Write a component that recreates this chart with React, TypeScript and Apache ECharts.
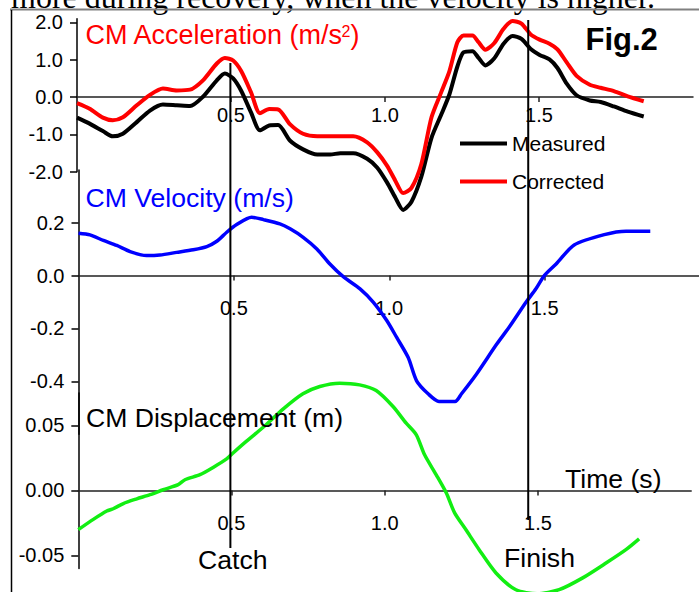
import React, { useEffect, useRef } from "react";
import * as echarts from "echarts";

// ---------- data ----------
const accTime = [0, 0.041, 0.084, 0.116, 0.149, 0.194, 0.237, 0.279, 0.324, 0.367, 0.409, 0.454, 0.48, 0.507, 0.533, 0.565, 0.594, 0.624, 0.653, 0.692, 0.734, 0.78, 0.822, 0.855, 0.897, 0.942, 0.975, 1.007, 1.033, 1.059, 1.086, 1.118, 1.151, 1.183, 1.209, 1.235, 1.255, 1.284, 1.303, 1.326, 1.355, 1.385, 1.414, 1.443, 1.473, 1.502, 1.534, 1.56, 1.59, 1.622, 1.665, 1.7, 1.743, 1.788, 1.84];
const accMeasured = [-0.55, -0.71, -0.91, -1.05, -0.98, -0.67, -0.36, -0.2, -0.22, -0.24, 0.01, 0.45, 0.63, 0.5, 0.17, -0.41, -0.89, -0.76, -0.75, -1.17, -1.4, -1.54, -1.54, -1.5, -1.5, -1.65, -1.89, -2.29, -2.68, -3.02, -2.8, -2.13, -1.09, -0.46, 0.07, 0.82, 1.2, 1.23, 1.06, 0.85, 1.04, 1.43, 1.64, 1.56, 1.29, 1.13, 1.01, 0.78, 0.36, 0.05, -0.09, -0.13, -0.25, -0.39, -0.52];
const accCorrected = [-0.16, -0.31, -0.55, -0.62, -0.54, -0.22, 0.06, 0.23, 0.18, 0.2, 0.45, 0.9, 1.05, 0.98, 0.7, 0.13, -0.43, -0.32, -0.33, -0.73, -0.98, -1.05, -1.05, -1.05, -1.05, -1.21, -1.48, -1.84, -2.23, -2.57, -2.43, -1.79, -0.54, 0.14, 0.69, 1.47, 1.65, 1.65, 1.48, 1.27, 1.45, 1.83, 2.04, 1.97, 1.68, 1.54, 1.43, 1.28, 0.93, 0.57, 0.33, 0.25, 0.16, 0.02, -0.11];

const velTime = [0, 0.037, 0.08, 0.123, 0.166, 0.219, 0.262, 0.316, 0.369, 0.413, 0.445, 0.477, 0.509, 0.557, 0.595, 0.648, 0.681, 0.723, 0.767, 0.809, 0.852, 0.906, 0.949, 0.992, 1.024, 1.061, 1.088, 1.125, 1.16, 1.212, 1.232, 1.281, 1.346, 1.389, 1.44, 1.472, 1.499, 1.537, 1.595, 1.692, 1.762, 1.84];
const velocity = [0.16, 0.154, 0.133, 0.114, 0.091, 0.076, 0.078, 0.088, 0.098, 0.11, 0.13, 0.164, 0.193, 0.221, 0.212, 0.196, 0.177, 0.145, 0.101, 0.044, -0.004, -0.05, -0.101, -0.17, -0.234, -0.31, -0.398, -0.447, -0.476, -0.476, -0.448, -0.372, -0.259, -0.19, -0.101, -0.05, 0.0, 0.044, 0.116, 0.155, 0.168, 0.168];

const dispTime = [0, 0.049, 0.093, 0.114, 0.147, 0.191, 0.234, 0.277, 0.326, 0.348, 0.397, 0.44, 0.484, 0.505, 0.548, 0.613, 0.668, 0.733, 0.788, 0.853, 0.918, 0.972, 1.027, 1.07, 1.103, 1.13, 1.168, 1.201, 1.228, 1.265, 1.308, 1.363, 1.428, 1.497, 1.569, 1.646, 1.722, 1.787, 1.83];
const displacement = [-0.0302, -0.0223, -0.0159, -0.0141, -0.0101, -0.0065, -0.0033, 0.0005, 0.0044, 0.0082, 0.0121, 0.0177, 0.0242, 0.0288, 0.0377, 0.0505, 0.0625, 0.0743, 0.0799, 0.0825, 0.0812, 0.0768, 0.0645, 0.0517, 0.0428, 0.0274, 0.012, -0.002, -0.0173, -0.0303, -0.0456, -0.0635, -0.0764, -0.0795, -0.0764, -0.0673, -0.0559, -0.0456, -0.0373];

const timeTicks = [0.5, 1.0, 1.5];
const accTicks = [-2, -1, 0, 1, 2];
const velTicks = [-0.4, -0.2, 0, 0.2];
const dispTicks = [-0.05, 0, 0.05];
const catchTime = 0.498;
const finishTime = 1.465;
const legendNames = ["Measured", "Corrected"];

const FONT = '"Liberation Sans", Arial, sans-serif';
const AXIS_COLOR = "#222";

// panel layout: grid box + value range of its y axis
const panels = [
  { left: 77, top: 18.7, width: 616, height: 153.1, min: -2, max: 2.1, labelMargin: 8 },
  { left: 78.5, top: 169.9, width: 621.5, height: 264.3, min: -0.6, max: 0.4, labelMargin: 22 },
  { left: 78.3, top: 392.9, width: 612.9, height: 175.5, min: -0.06, max: 0.075, labelMargin: 23 },
];

function xAxisFor(gridIndex: number) {
  const p = panels[gridIndex];
  // place the time axis on the y = 0 line of its panel
  const offset = -(p.height * (0 - p.min)) / (p.max - p.min);
  return {
    type: "value",
    gridIndex,
    position: "bottom",
    offset,
    min: 0,
    max: 2,
    axisLine: { show: true, onZero: false, lineStyle: { color: AXIS_COLOR, width: 1.5 } },
    axisTick: { show: true, inside: false, length: 5, customValues: timeTicks, lineStyle: { color: AXIS_COLOR, width: 1.5 } },
    axisLabel: {
      customValues: timeTicks,
      margin: p.labelMargin,
      fontSize: 20,
      color: "#000",
      fontFamily: FONT,
      formatter: (v: number) => v.toFixed(1),
    },
    splitLine: { show: false },
  };
}

function yAxisFor(gridIndex: number, ticks: number[], digits: number) {
  const p = panels[gridIndex];
  return {
    type: "value",
    gridIndex,
    min: p.min,
    max: p.max,
    axisLine: { show: true, onZero: false, lineStyle: { color: "#000", width: 1.5 } },
    axisTick: { show: true, inside: false, length: 7, customValues: ticks, lineStyle: { color: "#000", width: 1.5 } },
    axisLabel: {
      customValues: ticks,
      margin: 14,
      fontSize: 20,
      color: "#000",
      fontFamily: FONT,
      formatter: (v: number) => v.toFixed(digits),
    },
    splitLine: { show: false },
  };
}

function lineSeries(name: string, xi: number, times: number[], values: number[], color: string, width: number) {
  return {
    type: "line",
    name,
    xAxisIndex: xi,
    yAxisIndex: xi,
    data: times.map((t, i) => [t, values[i]]),
    showSymbol: false,
    symbol: "none",
    smooth: 0.25,
    clip: false,
    lineStyle: { color, width },
    itemStyle: { color },
    emphasis: { disabled: true },
  };
}

function txt(text: string, x: number, y: number, size: number, fill: string, extra: any = {}) {
  return {
    type: "text",
    x,
    y,
    z: 20,
    silent: true,
    style: {
      text,
      fill,
      fontSize: size,
      fontFamily: extra.fontFamily || FONT,
      fontWeight: extra.fontWeight || "normal",
      align: "left",
      verticalAlign: "middle",
    },
  };
}

export default function App() {
  const ref = useRef<HTMLDivElement>(null);
  useEffect(() => {
    if (!ref.current) return;
    const chart = echarts.init(ref.current, undefined, { renderer: "svg" });
    const option: any = {
      animation: false,
      backgroundColor: "#fff",
      grid: panels.map((p) => ({
        left: p.left,
        top: p.top,
        width: p.width,
        height: p.height,
        containLabel: false,
        outerBoundsMode: "none",
      })),
      xAxis: [xAxisFor(0), xAxisFor(1), xAxisFor(2)],
      yAxis: [yAxisFor(0, accTicks, 1), yAxisFor(1, velTicks, 1), yAxisFor(2, dispTicks, 2)],
      legend: {
        data: legendNames,
        orient: "vertical",
        left: 460,
        top: 133,
        padding: 0,
        itemWidth: 47,
        itemHeight: 4,
        itemGap: 17,
        icon: "rect",
        selectedMode: false,
        textStyle: { fontSize: 21, color: "#000", fontFamily: FONT },
      },
      series: [
        lineSeries(legendNames[0], 0, accTime, accMeasured, "#000000", 4),
        lineSeries(legendNames[1], 0, accTime, accCorrected, "#ff0000", 4),
        lineSeries("CM Velocity", 1, velTime, velocity, "#0000ff", 3.5),
        lineSeries("CM Displacement", 2, dispTime, displacement, "#12ee12", 3.5),
      ],
    };
    chart.setOption(option);

    const cx = chart.convertToPixel({ xAxisIndex: 0 }, catchTime) as number;
    const fx = chart.convertToPixel({ xAxisIndex: 0 }, finishTime) as number;

    chart.setOption({
      graphic: [
        txt("more during recovery, when the velocity is higher.", 11, -2.8, 32, "#000", { fontFamily: '"Liberation Serif", "Times New Roman", serif' }),
        { type: "line", z: 20, silent: true, shape: { x1: 10, y1: 9.5, x2: 699, y2: 9.5 }, style: { stroke: "#808080", lineWidth: 2 } },
        { type: "line", z: 20, silent: true, shape: { x1: 11.5, y1: 10, x2: 11.5, y2: 592 }, style: { stroke: "#000", lineWidth: 1.5 } },
        { type: "line", z: 15, silent: true, shape: { x1: cx, y1: 63, x2: cx, y2: 548 }, style: { stroke: "#000", lineWidth: 2 } },
        { type: "line", z: 15, silent: true, shape: { x1: fx, y1: 20, x2: fx, y2: 520 }, style: { stroke: "#000", lineWidth: 2 } },
        txt("CM Acceleration (m/s", 85.5, 35, 27, "#ff0000"),
        txt("2", 341.5, 31, 16, "#ff0000"),
        txt(")", 350.5, 35, 27, "#ff0000"),
        txt("CM Velocity (m/s)", 85.5, 197.9, 26.6, "#0000ff"),
        txt("CM Displacement (m)", 86, 417.7, 26.6, "#000"),
        txt("Time (s)", 565, 478.7, 26.6, "#000"),
        txt("Catch", 198, 560, 26.6, "#000"),
        txt("Finish", 504, 557.7, 26.6, "#000"),
        txt("Fig.2", 585.5, 39.3, 31, "#000", { fontWeight: "bold" }),
      ],
    });

    return () => chart.dispose();
  }, []);
  return <div ref={ref} style={{ position: "absolute", left: 0, top: 0, width: 699, height: 592 }} />;
}
